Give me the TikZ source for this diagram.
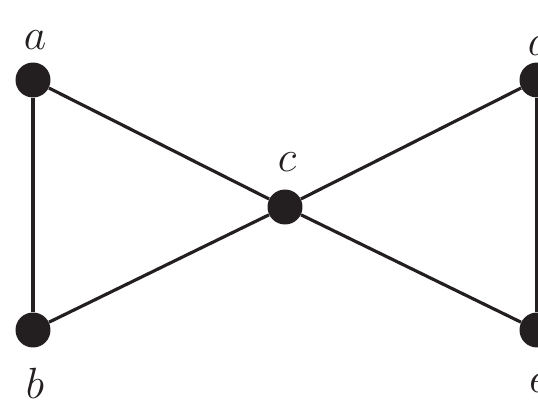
\documentclass[tikz,border=0pt]{standalone}
\usepackage{tikz}
\usetikzlibrary{positioning}
\definecolor{ink}{HTML}{231F20}
\tikzset{
  vtx/.style={circle, fill=ink, inner sep=0pt, minimum size=0.7cm},
  vlabel/.style={font=\fontsize{40}{48}\selectfont, text=ink, inner sep=0pt},
  edge/.style={draw=ink, line width=1.8pt},
  sideedge/.style={draw=ink, line width=2.8pt},
}
\begin{document}
\begin{tikzpicture}[x=0.02cm, y=-0.02cm]
  \useasboundingbox (0,0) rectangle (538,409);

  % Vertices
  \node[vtx] (a) at (33,80) {};
  \node[vtx] (b) at (33,330) {};
  \node[vtx] (c) at (285,207) {};
  \node[vtx] (d) at (537,80) {};
  \node[vtx] (e) at (537,330) {};

  % Labels
  \node[vlabel] (la) at (35,40) {$a$};
  \node[vlabel] (lb) at (35,383) {$b$};
  \node[vlabel] (lc) at (287,162) {$c$};
  \node[vlabel] (ld) at (539,40) {$d$};
  \node[vlabel] (le) at (539,383) {$e$};

  % Edges
  \foreach \u/\v in {a/c, b/c, c/d, c/e} {
    \draw[edge] (\u) -- (\v);
  }
  \draw[sideedge] (a) -- (b);
  \draw[sideedge] (d) -- (e);
\end{tikzpicture}
\end{document}
